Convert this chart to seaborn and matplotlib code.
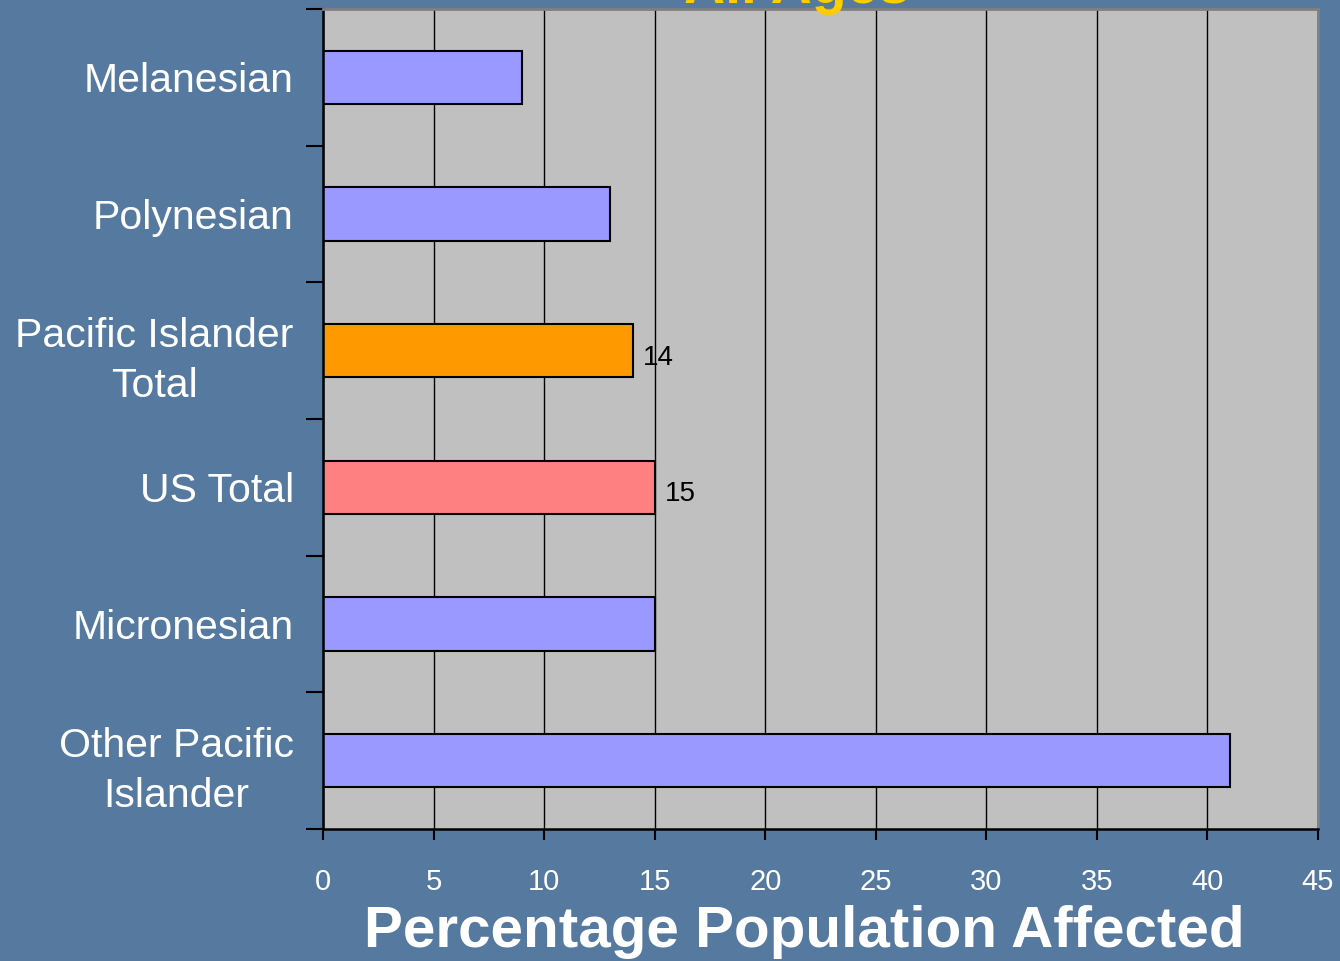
import matplotlib
matplotlib.use("Agg")
import matplotlib.pyplot as plt
import seaborn as sns
import pandas as pd

# Chart data
groups = ["Melanesian", "Polynesian", "Pacific Islander\nTotal", "US Total",
          "Micronesian", "Other Pacific\nIslander"]
pct_affected = [9, 13, 14, 15, 15, 41]
bar_colors = ["#9999ff", "#9999ff", "#ff9900", "#ff8080", "#9999ff", "#9999ff"]
labelled = ["Pacific Islander\nTotal", "US Total"]
x_ticks = [0, 5, 10, 15, 20, 25, 30, 35, 40, 45]

bg_color = "#55799f"

sns.set_style("white")
plt.rcParams["font.family"] = ["Liberation Sans", "DejaVu Sans"]

df = pd.DataFrame({"group": groups, "pct": pct_affected})

fig = plt.figure(figsize=(13.4, 9.61), dpi=100)
fig.patch.set_facecolor(bg_color)
ax = fig.add_axes([0.241, 0.1374, 0.7426, 0.8532])
ax.set_facecolor("#c0c0c0")

sns.barplot(data=df, x="pct", y="group", hue="group", palette=bar_colors,
            legend=False, orient="h", width=0.39, edgecolor="black",
            linewidth=1.5, saturation=1, ax=ax)

# value labels for the two highlighted bars
for i, (g, v) in enumerate(zip(groups, pct_affected)):
    if g in labelled:
        ax.text(v + 0.45, i + 0.05, str(v), va="center", ha="left",
                fontsize=20, color="black")

ax.set_xlim(0, 45)
ax.set_ylim(len(groups) - 0.5, -0.5)
ax.set_xticks(x_ticks)
ax.set_xticklabels([str(t) for t in x_ticks])
ax.grid(axis="x", color="black", linewidth=1.0)
ax.set_axisbelow(True)

# y ticks sit between categories
ax.set_yticks(range(len(groups)))
ax.set_yticklabels(groups, fontsize=29.5, color="white", linespacing=1.4,
                   multialignment="center")
ax.set_yticks([i - 0.5 for i in range(len(groups) + 1)], minor=True)
ax.tick_params(axis="y", which="major", length=0, pad=21)
ax.tick_params(axis="y", which="minor", length=12, width=1.5, color="black",
               direction="out", left=True)
ax.tick_params(axis="x", length=8, width=1.5, color="black", direction="out",
               bottom=True, labelsize=21, labelcolor="white", pad=20)

ax.set_xlabel("")
ax.set_ylabel("")
for side in ["left", "bottom"]:
    ax.spines[side].set_color("black")
    ax.spines[side].set_linewidth(1.8)
for side in ["top", "right"]:
    ax.spines[side].set_color("#808080")
    ax.spines[side].set_linewidth(2)

fig.text(0.6, 0.14 - 0.125, "Percentage Population Affected", ha="center",
         va="baseline", fontsize=42, fontweight="bold", color="white")

# title, mostly cut off by the top of the slide (as in the original slide)
fig.text(0.595, 1 - 3 / 961, "All Ages", ha="center", va="baseline",
         fontsize=41, fontweight="bold", color="#ffcc00")

fig.savefig("out.png", dpi=100, facecolor=fig.get_facecolor())
